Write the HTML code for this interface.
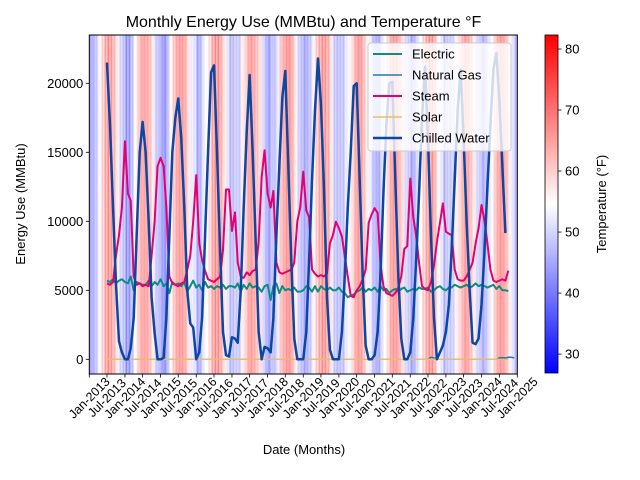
<!DOCTYPE html>
<html><head><meta charset="utf-8"><title>Monthly Energy Use</title>
<style>
html,body{margin:0;padding:0;background:#fff;}
svg{display:block;font-family:"Liberation Sans","DejaVu Sans",sans-serif;}
</style></head>
<body>
<svg id="chart" width="640" height="480" viewBox="0 0 640 480" xmlns="http://www.w3.org/2000/svg">
  <rect x="0" y="0" width="640" height="480" fill="#fff"/>
  <g id="stripes"></g>
  <g id="series"></g>
  <rect x="89.3" y="35" width="428" height="339" fill="none" stroke="#000" stroke-width="1"/>
  <g id="xaxis"></g>
  <g id="yaxis"></g>
  <text x="303.5" y="27" text-anchor="middle" font-size="16">Monthly Energy Use (MMBtu) and Temperature °F</text>
  <text x="304" y="454" text-anchor="middle" font-size="13">Date (Months)</text>
  <text transform="translate(25,204) rotate(-90)" text-anchor="middle" font-size="13">Energy Use (MMBtu)</text>
  <defs>
    <linearGradient id="bwr" x1="0" y1="1" x2="0" y2="0">
      <stop offset="0" stop-color="#0000ff"/>
      <stop offset="0.5" stop-color="#ffffff"/>
      <stop offset="1" stop-color="#ff0000"/>
    </linearGradient>
  </defs>
  <rect x="545" y="35" width="13" height="338" fill="url(#bwr)" stroke="#000" stroke-width="0.8"/>
  <g id="cbar"></g>
  <text transform="translate(606,204) rotate(-90)" text-anchor="middle" font-size="13">Temperature (°F)</text>
  <g id="legend">
    <rect x="368" y="43" width="143" height="108" rx="3" fill="#fff" fill-opacity="0.8" stroke="#ccc" stroke-width="1"/>
  </g>
</svg>
<script>
// Temperature (°F), monthly Jan-2013 .. Dec-2024
const temps = [
34,36,42,56,65,75,80,77,70,59,45,40,
30,32,40,55,66,75,77,76,70,59,42,39,
32,28,40,56,68,76,79,78,73,60,50,48,
33,38,50,55,63,75,80,80,72,60,49,38,
40,43,42,59,64,75,79,75,69,62,46,37,
31,41,40,50,69,75,80,80,72,58,43,39,
33,37,42,57,66,74,80,78,73,60,42,39,
40,40,50,53,62,74,80,78,69,58,51,39,
36,34,47,55,64,76,79,78,71,62,45,42,
32,38,47,55,66,74,80,79,70,56,49,37,
42,42,44,58,63,71,79,76,69,59,45,42,
34,40,48,56,67,76,80,77,70,58,48,37];
// Energy series start Jul-2013 (month index 6)
const energyStart = 6;
const electric = [
5700,5600,5800,5500,5700,5800,
5600,5500,6000,5000,5600,5500,5400,5400,5700,5300,5600,5400,
5800,5300,5500,4800,5600,5400,5500,5300,5600,4900,5300,5700,
5200,5400,5000,5600,5200,5300,5100,5300,5200,5400,5100,5300,
5300,5200,5500,4900,5400,5100,5500,5200,5300,5200,4900,5300,
5400,4300,5300,5500,4800,5300,5000,5100,5000,5200,4900,4900,
5000,5300,5200,4900,5300,4900,5300,5100,5000,5200,5000,5000,
5200,4900,4800,4500,4600,4700,4900,5000,5200,4900,5100,5000,
5200,4900,5300,5000,5100,4800,5000,5100,4900,5100,5200,4900,
5000,5100,5000,5200,5100,5100,5200,4900,5000,5200,5300,5100,
5000,5200,5200,5400,5300,5200,5300,5400,5200,5300,5500,5300,
5400,5300,5200,5300,5400,5100,5300,5000,5000,4950];
const naturalGas = [
0,0,0,0,0,0,
0,0,0,0,0,0,0,0,0,0,0,0,
0,0,0,0,0,0,0,0,0,0,0,0,
0,0,0,0,0,0,0,0,0,0,0,0,
0,0,0,0,0,0,0,0,0,0,0,0,
0,0,0,0,0,0,0,0,0,0,0,0,
0,0,0,0,0,0,0,0,0,0,0,0,
0,0,0,0,0,0,0,0,0,0,0,0,
0,0,0,0,0,0,0,0,0,0,0,0,
0,0,0,0,0,0,0,150,100,0,0,0,
0,0,0,0,0,0,0,0,0,0,0,0,
0,0,0,0,0,0,100,120,100,150,150,100];
const steam = [
5500,5400,5600,7500,9000,11000,
15800,12000,11500,6000,5400,5500,5300,5400,5300,7500,10000,14000,
14600,14000,11000,6000,5500,5400,5300,5500,5600,6500,7500,10000,
13350,8400,7200,6400,5800,5700,5600,5800,6000,7900,12300,12300,
9300,10650,7000,6000,5900,6300,6100,6400,6500,8500,13200,15150,
12000,11000,12200,7000,6300,6200,6300,6400,6500,7000,10000,11000,
13600,10800,10300,6500,6200,6000,6100,6000,6200,8400,9000,9970,
9500,8900,7500,6000,4600,4500,5000,5300,5800,6500,9900,10500,
10950,10600,7000,5300,4800,4700,4600,4800,5200,6000,8000,8200,
13100,10300,9000,7000,5300,5100,5000,5600,6800,8500,9900,11300,
9250,9100,9000,6500,5800,5700,5700,6000,6500,7000,8400,9500,
11180,10000,8400,6500,5700,5600,5700,5800,5700,6420];
const solar = [
0,0,0,0,0,0,
0,0,0,0,0,0,0,0,0,0,0,0,
0,0,0,0,0,0,0,0,0,0,0,0,
0,0,0,0,0,0,0,0,0,0,0,0,
0,0,0,0,0,0,0,0,0,0,0,0,
0,0,0,0,0,0,0,0,0,0,0,0,
0,0,0,0,0,0,0,0,0,0,0,0,
0,0,0,0,0,0,0,0,0,0,0,0,
0,0,0,0,0,0,0,0,0,0,0,0,
0,0,0,0,0,0,0,0,0,0,0,0,
0,0,0,0,0,0,0,0,0,0,0,0,
0,0,0,0,0,0,0,0,0,0];
const chilledWater = [
21500,17000,11000,5500,1300,500,
0,0,800,3000,9000,15000,17200,15000,10000,4500,1900,0,
0,100,3000,9000,15000,17500,18900,16000,11000,5000,2600,2300,
0,500,3000,9000,15000,20800,21300,15000,8000,2000,300,200,
1600,1500,1200,5000,11000,16500,20600,15000,8500,2000,0,900,
800,500,3000,9000,14000,19000,20900,14000,7000,1500,0,0,
0,2000,7000,13000,18000,21800,18500,12500,4500,700,0,0,
0,2000,6000,11000,15000,19800,20000,13000,6000,1000,0,0,
300,2000,6000,12000,17000,20000,20100,13000,6000,1500,0,0,
500,3000,7000,12000,17500,21200,16000,9000,3000,0,500,1000,
2000,4000,8000,13000,18000,21000,16000,10000,5000,1200,1100,1500,
4000,8000,12500,17000,21000,22200,18800,14000,9150];
const yTicks = [0,5000,10000,15000,20000];
const cbarTicks = [30,40,50,60,70,80];
const xTickLabels = ["Jan-2013","Jul-2013","Jan-2014","Jul-2014","Jan-2015","Jul-2015","Jan-2016","Jul-2016","Jan-2017","Jul-2017","Jan-2018","Jul-2018","Jan-2019","Jul-2019","Jan-2020","Jul-2020","Jan-2021","Jul-2021","Jan-2022","Jul-2022","Jan-2023","Jul-2023","Jan-2024","Jul-2024","Jan-2025"];
const legendLabels = ["Electric","Natural Gas","Steam","Solar","Chilled Water"];

const NS = "http://www.w3.org/2000/svg";
const X0 = 89.3, X1 = 517.3, Y0 = 35, Y1 = 374;
const T0 = Date.UTC(2013,0,1), T1 = Date.UTC(2025,0,1);
function monthTime(m){ return Date.UTC(2013 + Math.floor(m/12), m%12, 1); }
function xScale(m){ return X0 + (monthTime(m) - T0) / (T1 - T0) * (X1 - X0); }
function yScale(v){ return 359.3 - v * 0.0138; }
const CMIN = 26.9, CMAX = 82.3;
function cbarY(t){ return 373 - (t - CMIN) / (CMAX - CMIN) * 338; }
function bwr(t){
  let f = (t - CMIN) / (CMAX - CMIN); f = Math.max(0, Math.min(1, f));
  let r, g, b;
  if (f < 0.5){ r = g = Math.round(255 * f * 2); b = 255; }
  else { r = 255; g = b = Math.round(255 * (1 - f) * 2); }
  return "rgb(" + r + "," + g + "," + b + ")";
}
function mk(tag, attrs, parent){
  const e = document.createElementNS(NS, tag);
  for (const k in attrs) e.setAttribute(k, attrs[k]);
  parent.appendChild(e);
  return e;
}
// stripes
const sg = document.getElementById("stripes");
temps.forEach((t, i) => {
  const x0 = xScale(i), x1 = xScale(i + 1);
  const r = mk("rect", {x: x0, y: Y0, width: x1 - x0 + 0.3, height: Y1 - Y0, fill: bwr(t), "fill-opacity": 0.32}, sg);
  
  
  const l = mk("rect", {x: x0 + 1, y: Y0, width: 1, height: Y1 - Y0, fill: bwr(t), "fill-opacity": 0.3}, sg);
  
  
});
// series
const seriesGroup = document.getElementById("series");
const seriesList = [
  {data: electric, color: "#0f8c80", w: 2, name: "electric-line"},
  {data: naturalGas, color: "#2378b5", w: 1.5, name: "natural-gas-line"},
  {data: steam, color: "#e6006f", w: 2, name: "steam-line"},
  {data: solar, color: "#e3c06a", w: 1.5, name: "solar-line"},
  {data: chilledWater, color: "#0b47a3", w: 2.5, name: "chilled-water-line"}
];
seriesList.forEach(s => {
  const pts = s.data.map((v, i) => xScale(energyStart + i).toFixed(2) + "," + yScale(v).toFixed(2)).join(" ");
  const p = mk("polyline", {points: pts, fill: "none", stroke: s.color, "stroke-width": s.w, "stroke-linejoin": "round"}, seriesGroup);
  
  
});
// x axis
const xg = document.getElementById("xaxis");
xTickLabels.forEach((lab, i) => {
  const x = xScale(i * 6);
  const tk = mk("line", {x1: x, x2: x, y1: Y1, y2: Y1 + 3.5, stroke: "#000", "stroke-width": 0.8}, xg);
  
  
  const tx = mk("text", {transform: "translate(" + x + "," + (Y1 + 24) + ") rotate(-45)", "text-anchor": "middle", "dominant-baseline": "central", "font-size": 12.5}, xg);
  tx.textContent = lab;
  
  
});
// y axis
const yg = document.getElementById("yaxis");
yTicks.forEach(v => {
  const y = yScale(v);
  const tk = mk("line", {x1: X0 - 3.5, x2: X0, y1: y, y2: y, stroke: "#000", "stroke-width": 0.8}, yg);
  
  
  const tx = mk("text", {x: X0 - 6, y: y + 4.5, "text-anchor": "end", "font-size": 13}, yg);
  tx.textContent = v;
  
  
});
// colorbar
const cg = document.getElementById("cbar");
cbarTicks.forEach(t => {
  const y = cbarY(t);
  const tk = mk("line", {x1: 558, x2: 561.5, y1: y, y2: y, stroke: "#000", "stroke-width": 0.8}, cg);
  
  
  const tx = mk("text", {x: 565, y: y + 4.5, "font-size": 13}, cg);
  tx.textContent = t;
  
  
});
// legend
const lg = document.getElementById("legend");
legendLabels.forEach((lab, i) => {
  const y = 54 + i * 21;
  const s = seriesList[i];
  const ln = mk("line", {x1: 373, x2: 402, y1: y, y2: y, stroke: s.color, "stroke-width": s.w}, lg);
  
  
  const tx = mk("text", {x: 412, y: y + 4.5, "font-size": 13}, lg);
  tx.textContent = lab;
  
  
});
</script>
</body></html>
